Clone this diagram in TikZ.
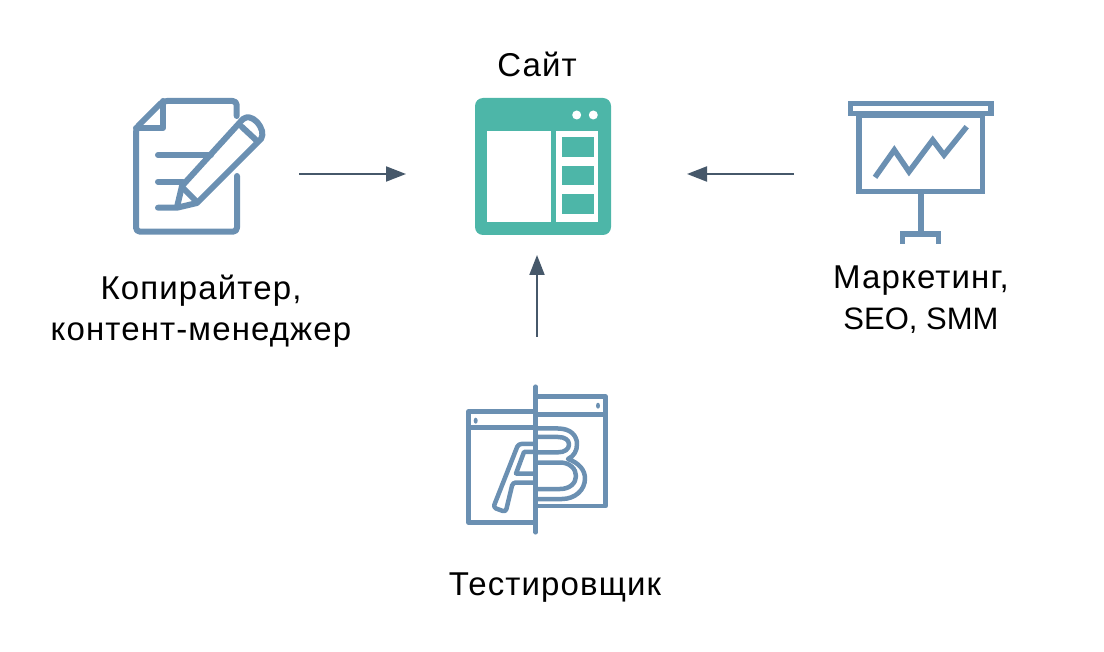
\documentclass[tikz,border=0pt]{standalone}
\usepackage{fontspec}
\setmainfont{Liberation Sans}
\newfontfamily\widefont[LetterSpace=3.4]{Liberation Sans}
\usepackage{tikz}
\usetikzlibrary{arrows.meta}
\definecolor{iconblue}{HTML}{6B90B2}
\definecolor{siteteal}{HTML}{4DB6A8}
\definecolor{arrowgray}{HTML}{46586A}
\newcommand{\plainsize}{\fontsize{31}{41}\selectfont}
\tikzset{
  icon/.style={draw=iconblue,line width=6pt,line join=round,line cap=round},
  sharpicon/.style={draw=iconblue,line width=5.5pt,line join=miter,line cap=butt},
  thinicon/.style={draw=iconblue,line width=4.5pt,line join=round,line cap=round},
  flow/.style={draw=arrowgray,line width=2pt,-{Triangle[length=20pt,width=15pt]}},
  lbl/.style={align=center,font=\widefont\fontsize{33}{41}\selectfont,text=black,inner sep=0pt}
}
\begin{document}
\begin{tikzpicture}[x=1pt,y=-1pt]
\useasboundingbox (0,0) rectangle (1104,652);
%labels
\node[lbl] (site) at (537,64) {Сайт};
\node[lbl] (writer) at (201,311) {Копирайтер,\\контент-менеджер};
\node[lbl] (market) at (921,300) {Маркетинг,\\{\normalfont\plainsize SEO, SMM}};
\node[lbl] (tester) at (555,588) {Тестировщик};
%ends of the arrows
\coordinate (writerout) at (299,174);
\coordinate (sitewest) at (406,174);
\coordinate (marketout) at (794,174);
\coordinate (siteeast) at (687,174);
\coordinate (testerout) at (537,337);
\coordinate (sitesouth) at (537,255);
\draw[flow] (writerout) -- (sitewest);
\draw[flow] (marketout) -- (siteeast);
\draw[flow] (testerout) -- (sitesouth);
%writer icon
\draw[icon,rounded corners=4pt] (236.7,116) -- (236.7,101) -- (163,101) -- (136,128) -- (136,231.7) -- (237,231.7) -- (237,176);
\draw[icon] (163,101) -- (163,128) -- (136,128);
\draw[icon] (158,155) -- (211,155);
\draw[icon] (158,181.7) -- (183,181.7);
\draw[icon] (158,207.7) -- (177,207.7) -- (197,203) -- (261,139) .. controls (264,134) and (262,128) .. (257,122) .. controls (252,117) and (247,116) .. (243,119) -- (182,186) -- (177,207);
\draw[icon] (183,188) -- (197,202);
\draw[icon] (241.7,126.7) -- (256,140);
%site icon
\fill[siteteal,rounded corners=8pt] (475,98) rectangle (611,235);
\fill[white] (487.3,131) rectangle (551,221.7);
\fill[white] (556,131) rectangle (598.3,221.7);
\fill[siteteal] (561.7,137.3) rectangle (594.3,157);
\fill[siteteal] (561.7,165.7) rectangle (594.3,185);
\fill[siteteal] (561.7,194) rectangle (594.3,214);
\fill[white] (576.7,115) circle (4.5pt);
\fill[white] (593.3,115) circle (4.5pt);
%marketing icon
\draw[sharpicon] (850.7,103.3) rectangle (991,113.7);
\draw[sharpicon] (859,115) rectangle (982.3,191.7);
\draw[sharpicon] (875,177.3) -- (894.3,150) -- (909,171.7) -- (932.7,140) -- (944,155) -- (966.7,126.7);
\draw[sharpicon] (921,191.7) -- (921,234);
\draw[sharpicon] (902.7,244) -- (902.7,234) -- (938.3,234) -- (938.3,244);
%tester icon
\draw[thinicon] (535.7,386.7) -- (535.7,532.3);
\draw[thinicon] (535.7,411.7) -- (468.3,411.7) -- (468.3,522.3) -- (535.7,522.3);
\draw[thinicon] (468.3,427.5) -- (535.7,427.5);
\draw[thinicon] (535.7,396.7) -- (605.7,396.7) -- (605.7,506) -- (535.7,506);
\draw[thinicon] (535.7,414.3) -- (605.7,414.3);
\fill[iconblue] (475.7,420.7) ellipse (2pt and 3pt);
\fill[iconblue] (598,405.7) ellipse (2pt and 3pt);
%letter A
\draw[thinicon,rounded corners=3pt] (535.7,444) -- (518.3,444) -- (493.3,507.5) -- (505.7,512) -- (512.8,482.5) -- (535.7,482.5);
\draw[thinicon] (535.7,452) -- (524,452) -- (516,473.5) -- (535.7,473.5);
%letter B
\draw[thinicon] (535.7,428.5) -- (558,428.5) .. controls (571,428.5) and (577,436) .. (577,444) .. controls (577,451) and (574,456) .. (568,459) .. controls (579,463) and (585,470) .. (585,478.5) .. controls (585,490) and (575,499) .. (562,499) -- (535.7,499);
\draw[thinicon] (535.7,437) -- (558,437) .. controls (565,437) and (569,440) .. (569,444.5) .. controls (569,449) and (565,452.3) .. (558,452.3) -- (535.7,452.3);
\draw[thinicon] (535.7,462.5) -- (560,462.5) .. controls (570,462.5) and (576,469) .. (576,476) .. controls (576,483) and (570,489) .. (560,489) -- (535.7,489);
\end{tikzpicture}
\end{document}
